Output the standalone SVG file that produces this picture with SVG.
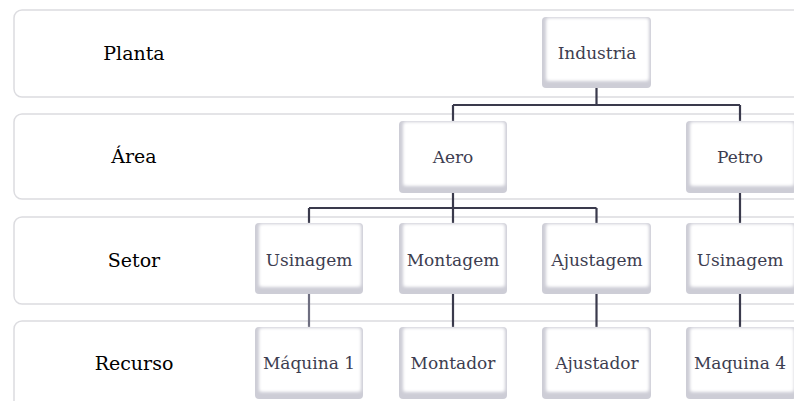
<svg xmlns="http://www.w3.org/2000/svg" width="794" height="401" viewBox="0 0 794 401">
<defs>
<style>
.band{fill:#fff;stroke:#dcdce0;stroke-width:1.5}
.lbl{font-family:"DejaVu Serif","Liberation Serif",serif;font-size:19px;fill:#000;text-anchor:middle}
.ntx{font-family:"DejaVu Serif","Liberation Serif",serif;font-size:17px;fill:#3d3d50;text-anchor:middle}
.nb{fill:#cdcdd6}
.nf{fill:#fff;filter:url(#soft)}
.con{fill:none;stroke:#3a3a4c;stroke-width:2.2}
</style>
<filter id="soft" x="-10%" y="-10%" width="120%" height="120%"><feGaussianBlur stdDeviation="1.6"/></filter>
</defs>
<g id="bands">
<rect class="band" x="14" y="10" width="800" height="87" rx="8"/>
<rect class="band" x="14" y="114" width="800" height="85" rx="8"/>
<rect class="band" x="14" y="217" width="800" height="87" rx="8"/>
<rect class="band" x="14" y="321" width="800" height="100" rx="8"/>
</g>
<g id="labels">
<text class="lbl" x="134" y="60">Planta</text>
<text class="lbl" x="134" y="163">Área</text>
<text class="lbl" x="134" y="267">Setor</text>
<text class="lbl" x="134" y="370">Recurso</text>
</g>
<g id="connectors">
<path class="con" d="M596.5 88V105M453 105H740M453 105V121M740 105V121"/>
<path class="con" d="M453 193V208M309 208H596.5M309 208V223M453 208V223M596.5 208V223"/>
<path class="con" d="M740 193V223"/>
<path class="con" style="stroke:#6e6e80" d="M309 294V327"/>
<path class="con" d="M453 294V327M596.5 294V327M740 294V327"/>
</g>
<g id="industria"><rect class="nb" x="542" y="17" width="109" height="71" rx="4"/><rect class="nf" x="546" y="18" width="103" height="63" rx="3"/><text class="ntx" x="597" y="59">Industria</text></g>
<g id="aero"><rect class="nb" x="399" y="121" width="108" height="72" rx="4"/><rect class="nf" x="403" y="122" width="102" height="64" rx="3"/><text class="ntx" x="453" y="163">Aero</text></g>
<g id="petro"><rect class="nb" x="686" y="121" width="110" height="72" rx="4"/><rect class="nf" x="690" y="122" width="104" height="64" rx="3"/><text class="ntx" x="740" y="163">Petro</text></g>
<g id="usinagem1"><rect class="nb" x="255" y="223" width="108" height="71" rx="4"/><rect class="nf" x="259" y="224" width="102" height="63" rx="3"/><text class="ntx" x="309" y="266">Usinagem</text></g>
<g id="montagem"><rect class="nb" x="399" y="223" width="108" height="71" rx="4"/><rect class="nf" x="403" y="224" width="102" height="63" rx="3"/><text class="ntx" x="453" y="266">Montagem</text></g>
<g id="ajustagem"><rect class="nb" x="542" y="223" width="109" height="71" rx="4"/><rect class="nf" x="546" y="224" width="103" height="63" rx="3"/><text class="ntx" x="597" y="266">Ajustagem</text></g>
<g id="usinagem2"><rect class="nb" x="686" y="223" width="110" height="71" rx="4"/><rect class="nf" x="690" y="224" width="104" height="63" rx="3"/><text class="ntx" x="740" y="266">Usinagem</text></g>
<g id="maquina1"><rect class="nb" x="255" y="327" width="108" height="72" rx="4"/><rect class="nf" x="259" y="328" width="102" height="64" rx="3"/><text class="ntx" x="309" y="369">Máquina 1</text></g>
<g id="montador"><rect class="nb" x="399" y="327" width="108" height="72" rx="4"/><rect class="nf" x="403" y="328" width="102" height="64" rx="3"/><text class="ntx" x="453" y="369">Montador</text></g>
<g id="ajustador"><rect class="nb" x="542" y="327" width="109" height="72" rx="4"/><rect class="nf" x="546" y="328" width="103" height="64" rx="3"/><text class="ntx" x="597" y="369">Ajustador</text></g>
<g id="maquina4"><rect class="nb" x="686" y="327" width="110" height="72" rx="4"/><rect class="nf" x="690" y="328" width="104" height="64" rx="3"/><text class="ntx" x="740" y="369">Maquina 4</text></g>
</svg>
